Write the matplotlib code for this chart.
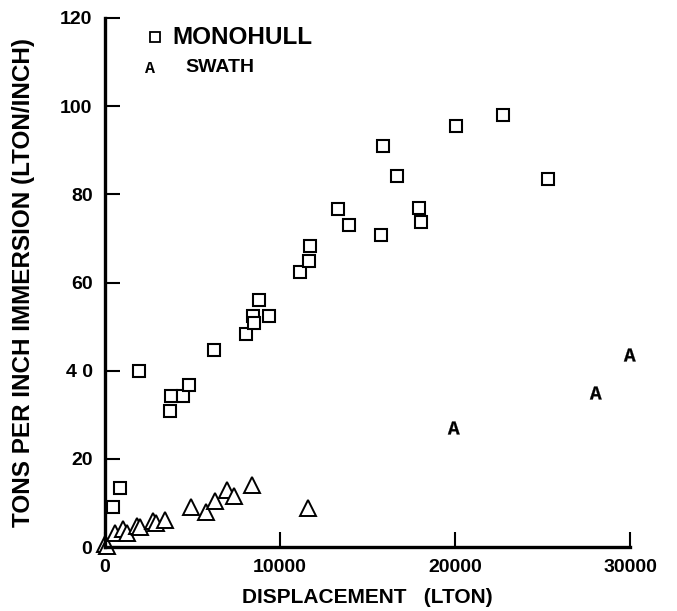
import matplotlib.pyplot as plt
from matplotlib.textpath import TextPath
from matplotlib.font_manager import FontProperties
from matplotlib.path import Path
import numpy as np

# Monohull ships: displacement (LTON) vs tons per inch immersion
mono_disp = [460, 860, 1940, 3700, 3770, 4460, 4800, 6230, 8060, 8460, 8510,
             8800, 9370, 11140, 11660, 11710, 13310, 13940, 15770, 15890,
             16690, 17940, 18060, 20060, 22740, 25310]
mono_tpi = [9.0, 13.4, 40.0, 30.8, 34.2, 34.2, 36.7, 44.7, 48.3, 52.4, 50.8,
            56.0, 52.4, 62.4, 64.9, 68.3, 76.6, 73.0, 70.7, 90.9,
            84.1, 76.9, 73.7, 95.5, 98.0, 83.4]

# SWATH ships (triangles)
swath_disp = [0, 110, 570, 1030, 1260, 1830, 2000, 2740, 2910, 3430,
              4910, 5770, 6290, 6970, 7370, 8400, 11600]
swath_tpi = [0.7, 0.3, 3.2, 4.0, 3.2, 4.8, 4.5, 5.9, 5.4, 6.1,
             9.1, 7.9, 10.4, 12.9, 11.6, 14.1, 8.8]

# SWATH ships plotted with the "A" symbol
swath_a_disp = [19890, 28000, 29940]
swath_a_tpi = [27.0, 34.9, 43.5]

xticks = [0, 10000, 20000, 30000]
yticks = [0, 20, 40, 60, 80, 100, 120]
ytick_labels = ['0', '20', '4 0', '60', '80', '100', '120']

plt.rcParams['font.family'] = ['Liberation Sans', 'DejaVu Sans']

fig = plt.figure(figsize=(6.77, 6.11), dpi=100)
ax = fig.add_axes([105 / 677, 1 - 547 / 611, 525 / 677, 529 / 611])

ax.plot(mono_disp, mono_tpi, linestyle='none', marker='s', markersize=9,
        markerfacecolor='white', markeredgecolor='black', markeredgewidth=1.5,
        clip_on=False)
ax.plot(swath_disp, swath_tpi, linestyle='none', marker='^', markersize=11,
        markerfacecolor='white', markeredgecolor='black', markeredgewidth=1.4,
        clip_on=False)

# "A" glyph as a marker
mono_bold = FontProperties(family='Liberation Mono', weight='bold')
a_path = TextPath((0, 0), 'A', prop=mono_bold)
verts = a_path.vertices - a_path.vertices.mean(axis=0)
a_marker = Path(verts, a_path.codes)
ax.plot(swath_a_disp, swath_a_tpi, linestyle='none', marker=a_marker,
        markersize=10, color='black', markeredgewidth=0.2, clip_on=False)

ax.set_xlim(0, 30000)
ax.set_ylim(0, 120)
ax.spines['top'].set_visible(False)
ax.spines['right'].set_visible(False)
ax.spines['left'].set_linewidth(2.4)
ax.spines['bottom'].set_linewidth(2.4)

ax.set_xticks(xticks)
ax.set_xticklabels([str(v) for v in xticks], fontsize=14, fontweight='bold')
ax.set_yticks(yticks)
ax.set_yticklabels(ytick_labels, fontsize=14, fontweight='bold')
ax.tick_params(axis='both', direction='in', length=11, width=1.5, pad=9)

ax.set_xlabel('DISPLACEMENT   (LTON)', fontsize=15, fontweight='bold', labelpad=8)
ax.set_ylabel('TONS PER INCH IMMERSION (LTON/INCH)', fontsize=17.5,
              fontweight='bold', labelpad=18)

# legend
ax.plot([2860], [115.6], linestyle='none', marker='s', markersize=7.5,
        markerfacecolor='white', markeredgecolor='black', markeredgewidth=1.3,
        clip_on=False)
ax.text(3830, 115.6, 'MONOHULL', fontsize=17.5, fontweight='bold', va='center')
ax.text(2570, 108.6, 'A', family='Liberation Mono', fontweight='bold',
        fontsize=12, va='center', ha='center')
ax.text(4570, 108.8, 'SWATH', fontsize=14, fontweight='bold', va='center')

fig.savefig('out.png', dpi=100)
